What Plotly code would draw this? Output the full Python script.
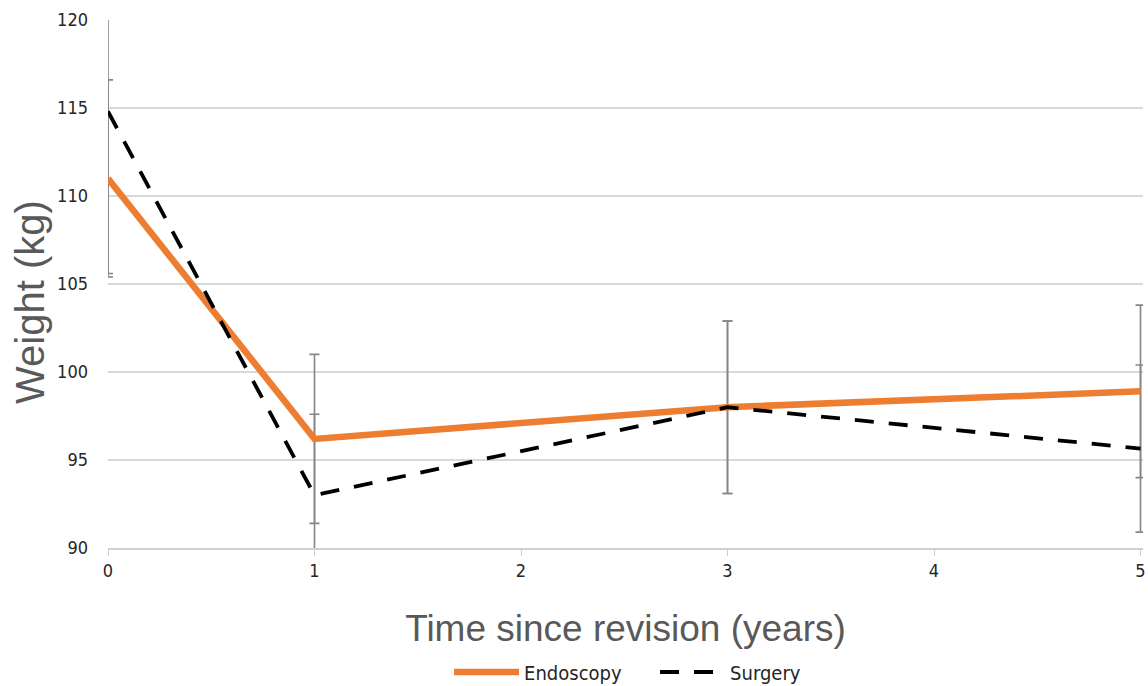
import plotly.graph_objects as go

years = [0, 1, 3, 5]
endoscopy = [111.0, 96.2, 98.0, 98.9]
endoscopy_err = [5.6, 4.8, 4.9, 4.9]
surgery = [114.8, 93.0, 98.0, 95.65]
surgery_err = [9.2, 4.6, 4.9, 4.75]
y_ticks = [90, 95, 100, 105, 110, 115, 120]
x_ticks = [0, 1, 2, 3, 4, 5]

ERR_COLOR = "#858585"
NARROW = "Liberation Sans Narrow, DejaVu Sans Condensed, Arial Narrow, sans-serif"
TICK_FONT = dict(family=NARROW, size=18, color="#262626")
LEGEND_FONT = dict(family=NARROW, size=20, color="#262626")

fig = go.Figure()

# error bars drawn first (below the lines)
for vals, errs in ((surgery, surgery_err), (endoscopy, endoscopy_err)):
    fig.add_trace(go.Scatter(
        x=years, y=vals, mode="markers",
        marker=dict(size=1, color="rgba(0,0,0,0)"),
        error_y=dict(type="data", array=errs, visible=True, color=ERR_COLOR, thickness=1.6, width=5),
        showlegend=False, hoverinfo="skip",
    ))

fig.add_trace(go.Scatter(
    x=years, y=endoscopy, mode="lines", name="Endoscopy",
    line=dict(color="#ED7D31", width=6.5),
))
fig.add_trace(go.Scatter(
    x=years, y=surgery, mode="lines", name="Surgery",
    line=dict(color="#000000", width=3.8, dash="19px,15px"),
))

fig.update_layout(
    width=1148, height=686,
    margin=dict(l=108, r=5, t=20, b=138),
    plot_bgcolor="white", paper_bgcolor="white",
    font=dict(family="Liberation Sans, Arial, sans-serif"),
    legend=dict(
        orientation="h", xref="container", yref="container",
        x=0.5706, xanchor="center", y=0.0204, yanchor="middle",
        font=LEGEND_FONT, itemwidth=65, traceorder="normal",
        entrywidth=126, entrywidthmode="pixels",
    ),
    xaxis=dict(
        range=[0, 5.012], tickvals=x_ticks, ticktext=[str(v) for v in x_ticks],
        showgrid=False, zeroline=False, automargin=False,
        showline=True, linecolor="#d0d0d0", linewidth=1.5,
        ticks="outside", tickcolor="#d0d0d0", ticklen=6,
        tickfont=TICK_FONT, ticklabeloverflow="allow",
        title=dict(text="Time since revision (years)", font=dict(size=37, color="#595959"), standoff=35),
    ),
    yaxis=dict(
        range=[90, 120], tickvals=y_ticks, ticktext=[str(v) for v in y_ticks],
        showgrid=True, gridcolor="#d9d9d9", gridwidth=1.5,
        zeroline=False, showline=False, ticks="", automargin=False,
        tickfont=TICK_FONT, ticklabelstandoff=19,
    ),
    annotations=[dict(
        text="Weight (kg)", textangle=-90, showarrow=False,
        xref="paper", yref="paper", x=-0.0754, y=0.466,
        xanchor="center", yanchor="middle",
        font=dict(size=40, color="#595959"),
    )],
)

fig.write_html(
    "out.html",
    config={"displayModeBar": False},
    post_script="document.body.style.margin='0px';",
)
